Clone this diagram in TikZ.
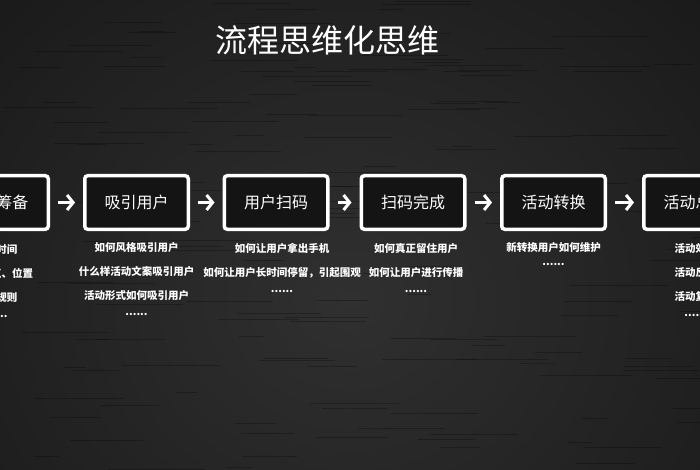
\documentclass[tikz,border=0pt]{standalone}
\usepackage{fontspec}
\newfontfamily\cjk{Noto Sans CJK SC}
\usetikzlibrary{arrows.meta}
\definecolor{bgcenter}{HTML}{303030}
\definecolor{bgedge}{HTML}{080808}
\definecolor{boxfill}{HTML}{141414}

\tikzset{
  stepbox/.style={draw=white,line width=3.5pt,rounded corners=3pt,fill=boxfill,
    minimum width=103.5pt,minimum height=53.5pt,inner sep=0pt,text=white,
    font=\cjk\fontsize{16}{18}\selectfont},
  flow/.style={white,line width=3pt,-{Straight Barb[length=6pt,width=15pt]},
    shorten <=8pt,shorten >=8pt},
  note/.style={anchor=north,align=center,inner sep=0pt,text=white,
    font=\cjk\bfseries\fontsize{10.5}{24}\selectfont}
}

\begin{document}
\begin{tikzpicture}[x=1pt,y=-1pt]
\useasboundingbox (0,0) rectangle (700,470);
\clip (0,0) rectangle (700,470);
% dark backdrop, a bit lighter in the middle
\shade[inner color=bgcenter,outer color=bgedge] (-550,-500) rectangle (1250,1100);
% faint brushed streaks
\pgfmathsetseed{7}
\foreach \i in {1,...,160}
    \draw[black,opacity=0.25,line width=0.8pt]
        ({rnd*700},{rnd*470}) -- ++({20+rnd*80},0);

\node[text=white,font=\cjk\fontsize{32}{34}\selectfont] (title) at (327.5,40) {流程思维化思维};

% steps
\foreach \n/\x/\t in {1/-3.5/活动筹备, 2/136.5/吸引用户, 3/276/用户扫码,
                      4/413/扫码完成, 5/553.5/活动转换, 6/695.5/活动总结}
    \node[stepbox] (box\n) at (\x,202.5) {\t};
\foreach \a/\b in {1/2, 2/3, 3/4, 4/5, 5/6}
    \draw[flow] (box\a) -- (box\b);

% questions under each step
\node[note] (note1) at (-3.5,244) {活动时间\\活动地点、位置\\活动规则\\[-8pt]......};
\node[note] (note2) at (136.5,242) {如何风格吸引用户\\什么样活动文案吸引用户\\活动形式如何吸引用户\\[-8pt]......};
\node[note] (note3) at (282,243) {如何让用户拿出手机\\如何让用户长时间停留，引起围观\\[-8pt]......};
\node[note] (note4) at (416,243) {如何真正留住用户\\如何让用户进行传播\\[-8pt]......};
\node[note] (note5) at (553.5,242) {新转换用户如何维护\\[-10pt]......};
\node[note] (note6) at (695.5,243) {活动效果\\活动反馈\\活动复盘\\[-8pt]......};
\end{tikzpicture}
\end{document}
